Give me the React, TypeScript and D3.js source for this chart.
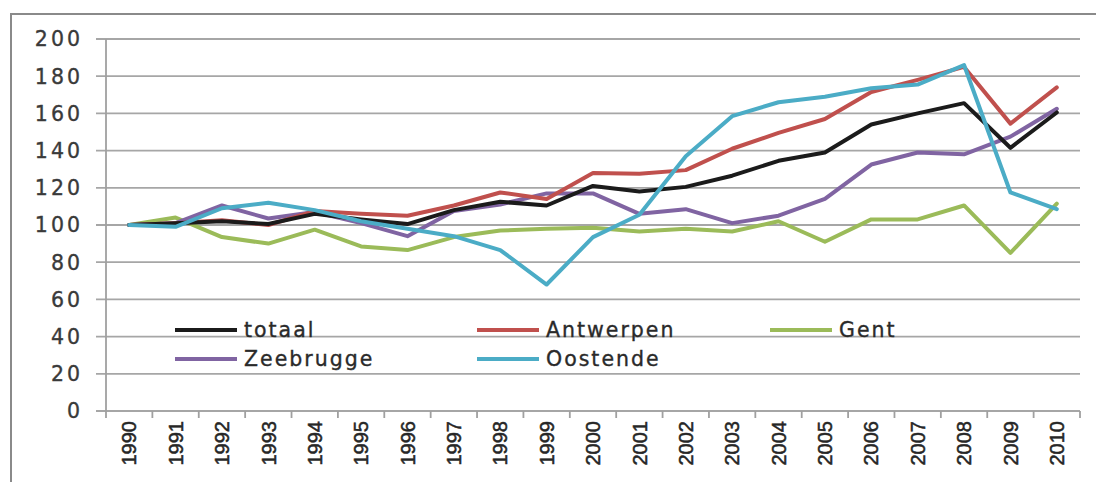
import React from "react";
import * as d3 from "d3";

const years = [
  "1990", "1991", "1992", "1993", "1994", "1995", "1996", "1997", "1998", "1999", "2000",
  "2001", "2002", "2003", "2004", "2005", "2006", "2007", "2008", "2009", "2010",
];

const totaal = [100, 101, 102, 100.5, 106, 103, 100.5, 108, 112.5, 110.5, 121, 118, 120.5, 126.5, 134.5, 139, 154, 160, 165.5, 141.5, 160.5];
const antwerpen = [100, 101, 102.5, 100, 107.5, 106, 105, 110.5, 117.5, 114, 128, 127.5, 129.5, 141, 149.5, 157, 171.5, 178, 185, 154.5, 174];
const gent = [100, 104, 93.5, 90, 97.5, 88.5, 86.5, 93.5, 97, 98, 98.5, 96.5, 98, 96.5, 102, 91, 103, 103, 110.5, 85, 111.5];
const zeebrugge = [100, 101, 110.5, 103.5, 107, 101, 94, 107.5, 111, 117, 117, 106, 108.5, 101, 105, 114, 132.5, 139, 138, 147.5, 162.5];
const oostende = [100, 99, 109, 112, 108, 102, 98, 94, 86.5, 68, 93.5, 105.5, 137, 158.5, 166, 169, 173.5, 175.5, 186, 117.5, 108.5];

const yTicks = [0, 20, 40, 60, 80, 100, 120, 140, 160, 180, 200];

const seriesNames = ["totaal", "Antwerpen", "Gent", "Zeebrugge", "Oostende"];
const seriesValues = [totaal, antwerpen, gent, zeebrugge, oostende];
const seriesColors = ["#1b1b1b", "#c0504d", "#9bbb59", "#8064a2", "#4bacc6"];
// draw order: back to front
const drawOrder = [2, 3, 1, 0, 4];

// legend grid: 3 columns, 2 rows
const legendCols = [175, 477, 770];
const legendRows = [330, 359];

export default function App() {
  const left = 106;
  const right = 1080;
  const top = 39;
  const bottom = 411;

  const x = d3.scaleBand<string>().domain(years).range([left, right]);
  const y = d3.scaleLinear().domain([0, 200]).range([bottom, top]);

  const line = d3
    .line<number>()
    .x((_, i) => (x(years[i]) as number) + x.bandwidth() / 2)
    .y((v) => y(v));

  const tickXs = d3.range(years.length + 1).map((i) => left + i * x.step());

  return (
    <svg
      width={1096}
      height={482}
      style={{ position: "absolute", left: 0, top: 0, background: "#fff" }}
    >
      <rect x={11} y={14} width={1100} height={480} fill="#fff" stroke="#8a8a8a" strokeWidth={2} />

      {/* horizontal gridlines */}
      {yTicks.map((t) => (
        <line
          key={"g" + t}
          x1={96}
          x2={right}
          y1={y(t)}
          y2={y(t)}
          stroke="#a6a6a6"
          strokeWidth={1.8}
        />
      ))}

      {/* value axis */}
      <line x1={left} x2={left} y1={top} y2={bottom} stroke="#a0a0a0" strokeWidth={1.8} />
      {yTicks.map((t) => (
        <text
          key={"yl" + t}
          x={83}
          y={y(t)}
          dy="0.36em"
          textAnchor="end"
          fontFamily="DejaVu Sans"
          fontSize={20.5}
          letterSpacing={3}
          fill="#3a3a3a"
          stroke="#3a3a3a"
          strokeWidth={0.35}
        >
          {t}
        </text>
      ))}

      {/* category axis ticks */}
      {tickXs.map((tx, i) => (
        <line key={"xt" + i} x1={tx} x2={tx} y1={bottom} y2={bottom + 7} stroke="#a0a0a0" strokeWidth={1.8} />
      ))}
      {years.map((yr) => {
        const cx = (x(yr) as number) + x.bandwidth() / 2;
        return (
          <text
            key={"xl" + yr}
            transform={`translate(${cx},${421}) rotate(-90)`}
            dy="0.36em"
            textAnchor="end"
            fontFamily="Liberation Sans"
            fontSize={20}
            fill="#262626"
            stroke="#262626"
            strokeWidth={0.5}
          >
            {yr}
          </text>
        );
      })}

      {/* legend */}
      {seriesNames.map((name, i) => {
        const lx = legendCols[i % 3];
        const ly = legendRows[Math.floor(i / 3)];
        return (
          <g key={"lg" + name}>
            <line x1={lx} x2={lx + 62} y1={ly} y2={ly} stroke={seriesColors[i]} strokeWidth={4} />
            <text
              x={lx + 69}
              y={ly}
              dy="0.36em"
              fontFamily="DejaVu Sans"
              fontSize={20.5}
              letterSpacing={2}
              fill="#2a2a2a"
              stroke="#2a2a2a"
              strokeWidth={0.35}
            >
              {name}
            </text>
          </g>
        );
      })}

      {/* series */}
      {drawOrder.map((i) => (
        <path
          key={"s" + seriesNames[i]}
          d={line(seriesValues[i]) as string}
          fill="none"
          stroke={seriesColors[i]}
          strokeWidth={4}
          strokeLinejoin="round"
          strokeLinecap="round"
        />
      ))}
    </svg>
  );
}
